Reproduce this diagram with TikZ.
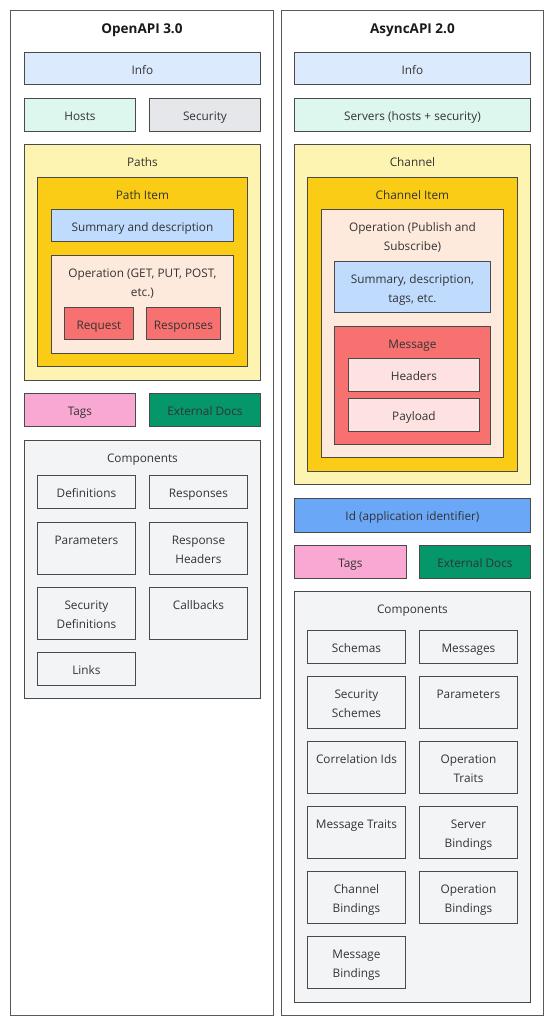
\documentclass[tikz,border=0pt]{standalone}
\usepackage{fontspec}
\setmainfont{Open Sans}
\definecolor{txt}{HTML}{333333}
\definecolor{edge}{HTML}{4A4A4A}
\definecolor{cInfo}{HTML}{DCEAFD}
\definecolor{cMint}{HTML}{DDF7EE}
\definecolor{cGray}{HTML}{E5E7EB}
\definecolor{cPale}{HTML}{FDF4B2}
\definecolor{cGold}{HTML}{FACC15}
\definecolor{cBlue}{HTML}{BFDBFE}
\definecolor{cPeach}{HTML}{FEEADC}
\definecolor{cRed}{HTML}{F87171}
\definecolor{cRose}{HTML}{FEE2E2}
\definecolor{cPink}{HTML}{F9A8D4}
\definecolor{cGreen}{HTML}{059669}
\definecolor{cId}{HTML}{6AA8F7}
\definecolor{cComp}{HTML}{F3F4F6}
\newcommand\fh{\rule{0pt}{10pt}}
\tikzset{
  x=1pt, y=-1pt,
  box/.style={draw=edge, line width=0.9pt, anchor=north west, inner sep=0pt},
  outer/.style={draw=black!65, line width=0.9pt, fill=white, anchor=north west, inner sep=0pt},
  lab/.style={anchor=north, inner sep=0pt, align=center, text=txt,
    font=\fontsize{11.8}{19.5}\selectfont},
  ttl/.style={anchor=north, inner sep=0pt, align=center, text=black!90,
    font=\fontsize{13.5}{16}\selectfont\bfseries},
}
% \bx{name}{x}{y}{w}{h}{fill}{text}
\newcommand\bx[7]{%
  \node[box, fill=#6, minimum width=#4pt, minimum height=#5pt] (#1) at (#2,#3) {};
  \node[lab] (#1-t) at ([yshift=-12pt]#1.north) {\fh #7};
}
\begin{document}
\begin{tikzpicture}
\useasboundingbox (0,0) rectangle (545,1030);
\fill[white] (0,0) rectangle (545,1030);

% ---------------- OpenAPI ----------------
\node[outer, minimum width=263pt, minimum height=1005pt] (oapi) at (10,10) {};
\node[ttl] (oapi-t) at ([yshift=-13pt]oapi.north) {\fh OpenAPI 3.0};

\bx{info1}{24}{52}{236}{32}{cInfo}{Info}
\bx{hosts}{24}{98}{111}{33}{cMint}{Hosts}
\bx{security}{149}{98}{111}{33}{cGray}{Security}
\bx{paths}{24}{144}{236}{236}{cPale}{Paths}
\bx{pathitem}{37}{177}{210}{189}{cGold}{Path Item}
\bx{summary1}{51}{209}{182}{32}{cBlue}{Summary and description}
\bx{op1}{51}{255}{182}{98}{cPeach}{Operation (GET, PUT, POST,\\etc.)}
\bx{request}{64}{307}{69}{32}{cRed}{Request}
\bx{responses1}{146}{307}{74}{32}{cRed}{Responses}
\bx{tags1}{24}{393}{111}{33}{cPink}{Tags}
\bx{ext1}{149}{393}{111}{33}{cGreen}{External Docs}
\bx{comp1}{24}{440}{236}{258}{cComp}{Components}
\bx{defs}{37}{475}{98}{33}{cComp}{Definitions}
\bx{resp1}{149}{475}{98}{33}{cComp}{Responses}
\bx{params1}{37}{522}{98}{52}{cComp}{Parameters}
\bx{rheaders}{149}{522}{98}{52}{cComp}{Response\\Headers}
\bx{secdefs}{37}{587}{98}{52}{cComp}{Security\\Definitions}
\bx{callbacks}{149}{587}{98}{52}{cComp}{Callbacks}
\bx{links}{37}{652}{98}{33}{cComp}{Links}

% ---------------- AsyncAPI ----------------
\node[outer, minimum width=262pt, minimum height=1005pt] (aapi) at (281,10) {};
\node[ttl] (aapi-t) at ([yshift=-13pt]aapi.north) {\fh AsyncAPI 2.0};

\bx{info2}{294}{52}{236}{32}{cInfo}{Info}
\bx{servers}{294}{98}{236}{33}{cMint}{Servers (hosts + security)}
\bx{channel}{294}{144}{236}{340}{cPale}{Channel}
\bx{chitem}{307}{177}{210}{294}{cGold}{Channel Item}
\bx{op2}{321}{209}{182}{248}{cPeach}{Operation (Publish and\\Subscribe)}
\bx{summary2}{334}{261}{156}{51}{cBlue}{Summary, description,\\tags, etc.}
\bx{message}{334}{326}{156}{118}{cRed}{Message}
\bx{headers}{348}{358}{131}{33}{cRose}{Headers}
\bx{payload}{348}{398}{131}{33}{cRose}{Payload}
\bx{appid}{294}{498}{236}{34}{cId}{Id (application identifier)}
\bx{tags2}{294}{545}{112}{33}{cPink}{Tags}
\bx{ext2}{419}{545}{111}{33}{cGreen}{External Docs}
\bx{comp2}{294}{591}{236}{411}{cComp}{Components}
\bx{schemas}{307}{630}{98}{33}{cComp}{Schemas}
\bx{messages}{419}{630}{98}{33}{cComp}{Messages}
\bx{secschemes}{307}{676}{98}{52}{cComp}{Security\\Schemes}
\bx{params2}{419}{676}{98}{52}{cComp}{Parameters}
\bx{corrids}{307}{741}{98}{52}{cComp}{Correlation Ids}
\bx{optraits}{419}{741}{98}{52}{cComp}{Operation\\Traits}
\bx{msgtraits}{307}{806}{98}{52}{cComp}{Message Traits}
\bx{serverb}{419}{806}{98}{52}{cComp}{Server\\Bindings}
\bx{chanb}{307}{871}{98}{52}{cComp}{Channel\\Bindings}
\bx{opb}{419}{871}{98}{52}{cComp}{Operation\\Bindings}
\bx{msgb}{307}{936}{98}{52}{cComp}{Message\\Bindings}
\end{tikzpicture}
\end{document}
